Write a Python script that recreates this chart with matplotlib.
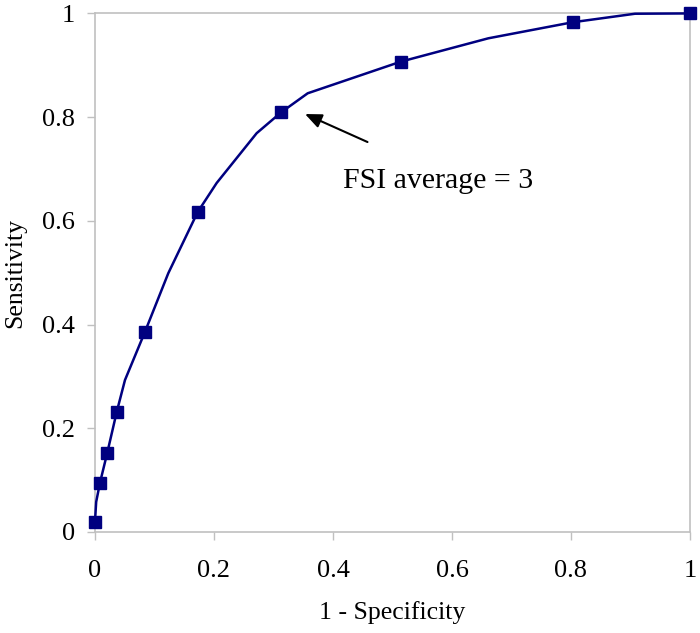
import matplotlib
matplotlib.use("Agg")
import matplotlib.pyplot as plt

# ROC curve (line vertices) and the marked cut-off points
curve_x = [0.0, 0.002, 0.0084, 0.0207, 0.0364, 0.0504, 0.084, 0.1232, 0.1726,
           0.2045, 0.2717, 0.3126, 0.3575, 0.514, 0.661, 0.803, 0.9076, 1.0]
curve_y = [0.02, 0.058, 0.095, 0.153, 0.231, 0.293, 0.386, 0.499, 0.617,
           0.673, 0.769, 0.809, 0.846, 0.907, 0.952, 0.983, 0.9994, 1.0]
marker_x = [0.0, 0.0084, 0.0207, 0.0364, 0.084, 0.1726, 0.3126, 0.514, 0.803, 1.0]
marker_y = [0.02, 0.095, 0.153, 0.231, 0.386, 0.617, 0.809, 0.907, 0.983, 1.0]
ticks = [0, 0.2, 0.4, 0.6, 0.8, 1]
tick_labels = ["0", "0.2", "0.4", "0.6", "0.8", "1"]

plt.rcParams["font.family"] = ["Liberation Serif", "DejaVu Serif"]

fig = plt.figure(figsize=(7, 6.33), dpi=100)
ax = fig.add_axes([0.1357, 0.1596, 0.85, 0.8192])

navy = "#000080"
ax.plot(curve_x, curve_y, color=navy, lw=1.8, clip_on=False, zorder=3)
ax.plot(marker_x, marker_y, ls="none", marker="s", ms=8.5, color=navy,
        clip_on=False, zorder=4)

ax.annotate("", xy=(0.353, 0.806), xytext=(0.458, 0.752),
            arrowprops=dict(arrowstyle="-|>,head_length=1.0,head_width=0.43",
                            color="black", lw=1.5, shrinkA=0, shrinkB=0))
ax.text(0.417, 0.6635, "FSI average = 3", fontsize=21.5, va="baseline", ha="left")

ax.set_xlim(0, 1)
ax.set_ylim(0, 1)
ax.set_xticks(ticks)
ax.set_xticklabels(tick_labels)
ax.set_yticks(ticks)
ax.set_yticklabels(tick_labels)
for s in ax.spines.values():
    s.set_color("#c0c0c0")
    s.set_linewidth(1.2)
ax.tick_params(axis="both", colors="#c0c0c0", length=6, width=1,
               labelsize=19, labelcolor="black")
ax.tick_params(axis="x", pad=14)
ax.tick_params(axis="y", pad=8.5)

ax.set_xlabel("1 - Specificity", fontsize=18.5, labelpad=14)
ax.set_ylabel("Sensitivity", fontsize=18.5, labelpad=11)

fig.savefig("out.png", dpi=100)
